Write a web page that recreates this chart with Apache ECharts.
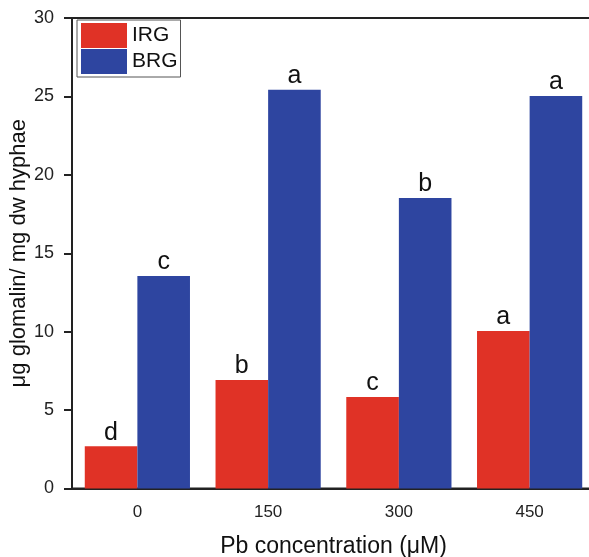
<!DOCTYPE html>
<html>
<head>
<meta charset="utf-8">
<script src="https://cdn.jsdelivr.net/npm/echarts@6/dist/echarts.min.js"></script>
<style>
  html, body { margin: 0; padding: 0; background: #fff; }
  #chart { width: 589px; height: 557px; }
</style>
</head>
<body>
<div id="chart"></div>
<script>
// data
const categories = ['0', '150', '300', '450']
const irgValues = [2.7, 6.92, 5.84, 10.04]
const brgValues = [13.55, 25.42, 18.52, 25.02]
const irgLetters = ['d', 'b', 'c', 'a']
const brgLetters = ['c', 'a', 'b', 'a']

const font = 'Liberation Sans, Arial, sans-serif'
const axisColor = '#222'

const chart = echarts.init(document.getElementById('chart'))

const letterLabel = (letters) => ({
  show: true,
  position: 'top',
  distance: 1,
  fontFamily: font,
  fontSize: 25,
  color: '#111',
  formatter: p => letters[p.dataIndex]
})

chart.setOption({
  animation: false,
  backgroundColor: '#fff',
  // right edge of the plot sits past the picture's edge, so the box is cut off
  grid: {
    left: 72, top: 18, width: 523, bottom: 68.5,
    outerBoundsMode: 'none',
    containLabel: false,
    show: true, borderColor: axisColor, borderWidth: 2
  },
  legend: {
    left: 77, top: 20,
    orient: 'vertical',
    icon: 'rect',
    itemWidth: 46, itemHeight: 25, itemGap: 1,
    padding: [3, 3, 3, 4],
    borderColor: '#555', borderWidth: 1,
    textStyle: { fontFamily: font, fontSize: 21, color: '#111' },
    data: ['IRG', 'BRG']
  },
  xAxis: [
    {
      type: 'category',
      data: categories,
      name: 'Pb concentration (μM)',
      nameLocation: 'middle',
      nameGap: 47,
      nameMoveOverlap: false,
      nameTextStyle: { fontFamily: font, fontSize: 23, color: '#111' },
      axisLine: { lineStyle: { color: axisColor, width: 2 } },
      axisTick: { alignWithLabel: true, length: 7, lineStyle: { color: axisColor, width: 2 } },
      axisLabel: { fontFamily: font, fontSize: 17, color: '#222', margin: 15 }
    },
    {
      // small ticks between groups
      type: 'category',
      data: categories,
      position: 'bottom',
      axisLine: { show: false },
      axisTick: { length: 4, lineStyle: { color: axisColor, width: 2 } },
      axisLabel: { show: false }
    }
  ],
  yAxis: {
    type: 'value',
    min: 0, max: 30, interval: 5,
    name: 'μg glomalin/ mg dw hyphae',
    nameLocation: 'middle',
    nameGap: 42,
    nameMoveOverlap: false,
    nameTextStyle: { fontFamily: font, fontSize: 22, color: '#111' },
    axisLine: { show: true, lineStyle: { color: axisColor, width: 2 } },
    axisTick: { show: true, length: 8, lineStyle: { color: axisColor, width: 2 } },
    axisLabel: { fontFamily: font, fontSize: 18, color: '#222', margin: 18 },
    splitLine: { show: false }
  },
  series: [
    {
      name: 'IRG', type: 'bar',
      data: irgValues,
      barWidth: 52.6, barGap: '0%',
      itemStyle: { color: '#E03226' },
      label: letterLabel(irgLetters)
    },
    {
      name: 'BRG', type: 'bar',
      data: brgValues,
      barWidth: 52.6, barGap: '0%',
      itemStyle: { color: '#2E45A0' },
      label: letterLabel(brgLetters)
    }
  ]
})
</script>
</body>
</html>
